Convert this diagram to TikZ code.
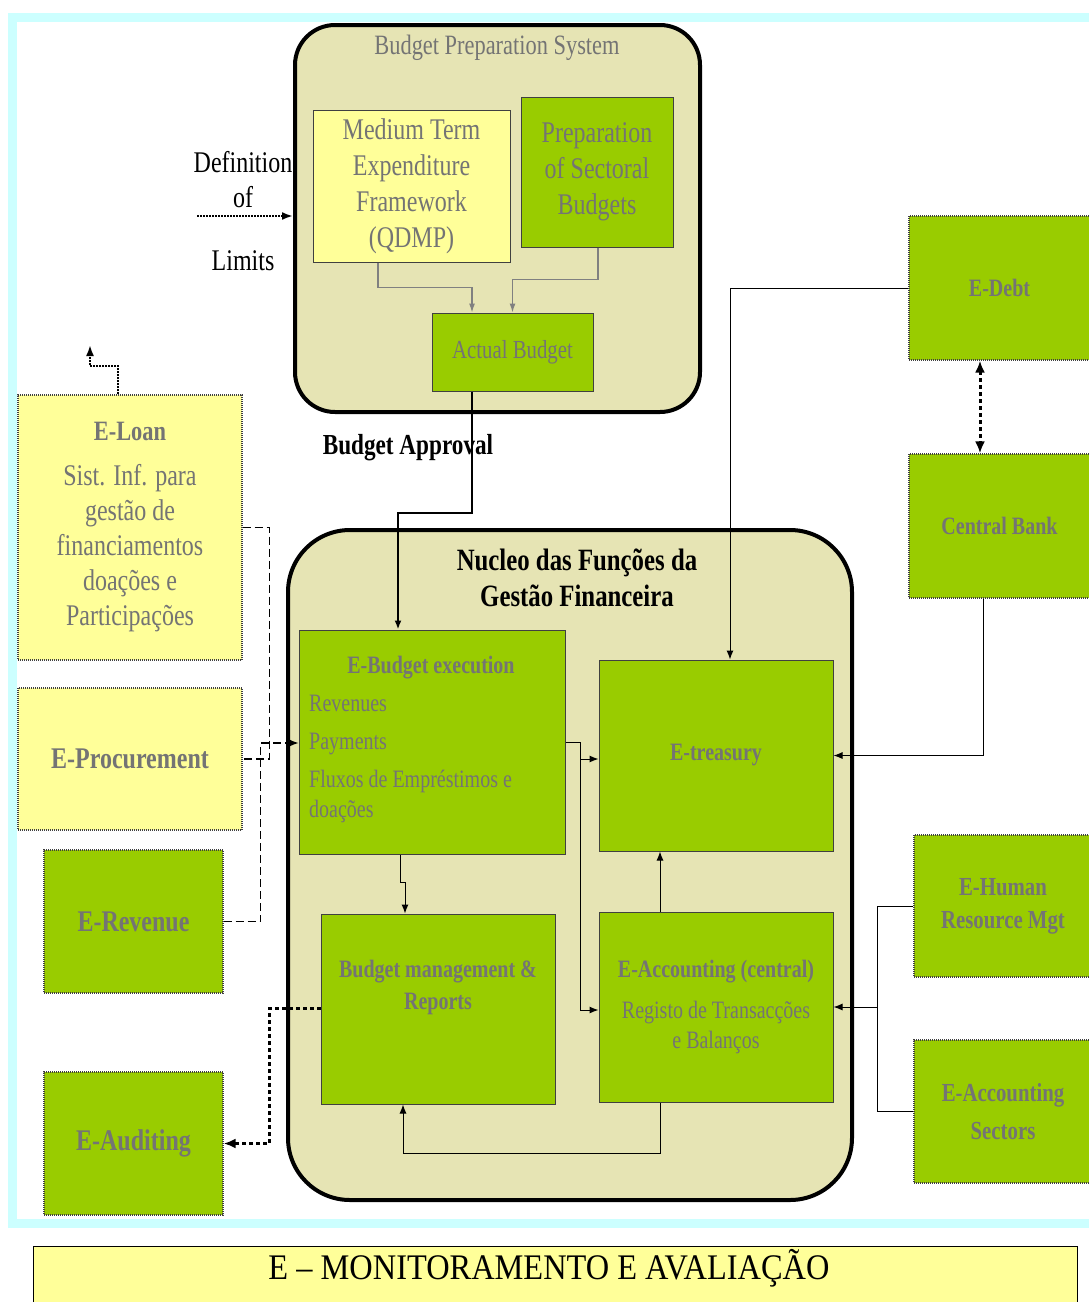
\documentclass[tikz,border=0pt]{standalone}
\usepackage{fontspec}
\setmainfont{Liberation Serif}
\newfontfamily\cnd[FakeStretch=0.8]{Liberation Serif}
\newfontfamily\capfont[FakeStretch=0.9]{Liberation Serif}
\usetikzlibrary{arrows.meta,positioning}
\definecolor{boxgreen}{HTML}{99CC00}
\definecolor{boxyellow}{HTML}{FFFF99}
\definecolor{corebeige}{HTML}{E6E4B4}
\definecolor{framecyan}{HTML}{CCFFFF}
\definecolor{labelgray}{HTML}{747474}
\newcommand{\pxfont}[2]{\fontsize{#1}{#2}\selectfont}

\begin{document}
\begin{tikzpicture}[x=1pt,y=-1pt]
\tikzset{
  greenbox/.style={rectangle,draw=black!75,line width=1pt,fill=boxgreen,text=labelgray,align=center,inner sep=0pt,font=\cnd\bfseries\pxfont{25}{32}},
  yellowbox/.style={rectangle,draw=black!75,line width=1pt,fill=boxyellow,text=labelgray,align=center,inner sep=0pt,font=\cnd\pxfont{30}{36}},
  outbox/.style={densely dotted,line width=1.2pt},
  bigbox/.style={rectangle,draw=black,line width=4pt,fill=corebeige,rounded corners=40pt},
  graytext/.style={text=labelgray,inner sep=0pt},
  link/.style={-{Latex[length=9pt,width=7pt]},line width=1pt},
  graylink/.style={-{Latex[length=9pt,width=6pt]},draw=gray,line width=1.2pt},
  dotlink/.style={-{Latex[length=11pt,width=8pt]},line width=2pt,densely dotted},
  dashlink/.style={line width=1.2pt,dash pattern=on 8pt off 4pt},
  heavydots/.style={-{Latex[length=12pt,width=10pt]},line width=3pt,dash pattern=on 4pt off 3pt}
}
\useasboundingbox (0,0) rectangle (1088,1302);
\fill[white] (0,0) rectangle (1088,1302);
\draw[framecyan,line width=9pt] (12.5,17) rectangle (1100,1223.5);

\node[bigbox,minimum width=405,minimum height=387] (bps) at (497.5,218.5) {};
\node[graytext,font=\cnd\pxfont{28}{32}] (bpstitle) at (497,48) {Budget Preparation System};
\node[yellowbox,minimum width=197,minimum height=152] (mtef) at (411.5,186) {Medium Term\\Expenditure\\Framework\\(QDMP)};
\node[greenbox,font=\cnd\pxfont{30}{36},minimum width=152,minimum height=150] (psb) at (597,172) {Preparation\\of Sectoral\\Budgets};
\node[greenbox,font=\cnd\pxfont{26}{30},minimum width=161,minimum height=78] (actual) at (512.5,352) {Actual Budget};

\node[font=\cnd\pxfont{30}{36},inner sep=0pt] (deftxt) at (243,162) {Definition};
\node[font=\cnd\pxfont{30}{36},inner sep=0pt] (oftxt) at (243,197) {of};
\node[font=\cnd\pxfont{30}{36},inner sep=0pt] (limtxt) at (243,261) {Limits};
\coordinate (limstart) at (197,216);

\node[bigbox,rounded corners=62pt,minimum width=564,minimum height=670] (nucleo) at (570,865) {};
\node[font=\cnd\bfseries\pxfont{31}{36},align=center,inner sep=0pt] (nucleotitle) at (577,578) {Nucleo das Funções da\\Gestão Financeira};
\node[font=\cnd\bfseries\pxfont{29}{32},inner sep=0pt] (approval) at (408,448) {Budget Approval};

\node[greenbox,minimum width=266,minimum height=224] (ebud) at (432,742) {};
\node[graytext,font=\cnd\bfseries\pxfont{25}{32}] (ebudtitle) at (431,668) {E-Budget execution};
\node[graytext,font=\cnd\pxfont{25}{38},align=left,anchor=west] (ebudlist) at (309,759) {Revenues\\Payments\\Fluxos de Empréstimos e\\[-8pt]doações};
\node[greenbox,minimum width=234,minimum height=191] (etreas) at (716,755.5) {E-treasury};
\node[greenbox,minimum width=234,minimum height=190] (bmr) at (438,1009) {};
\node[graytext,font=\cnd\bfseries\pxfont{25}{32},align=center] (bmrtext) at (438,987) {Budget management \&\\Reports};
\node[greenbox,font=\cnd\pxfont{25}{30},minimum width=234,minimum height=190] (eacc) at (716,1007) {{\bfseries E-Accounting (central)}\\[11pt]Registo de Transacções\\e Balanços};

\node[greenbox,outbox,minimum width=181,minimum height=144] (edebt) at (999.5,288) {E-Debt};
\node[greenbox,outbox,minimum width=181,minimum height=144] (cbank) at (999.5,526) {Central Bank};
\node[greenbox,outbox,minimum width=178,minimum height=142,font=\cnd\bfseries\pxfont{26}{33}] (ehr) at (1003,906) {E-Human\\Resource Mgt};
\node[greenbox,outbox,minimum width=178,minimum height=143,font=\cnd\bfseries\pxfont{26}{38}] (eaccs) at (1003,1111.5) {E-Accounting\\Sectors};

\node[yellowbox,outbox,minimum width=224,minimum height=265,font=\cnd\pxfont{30}{35}] (eloan) at (130,527.5) {{\bfseries\pxfont{28}{32}E-Loan}\\[10pt]Sist. Inf. para\\gestão de\\financiamentos\\doações e\\Participações};
\node[yellowbox,outbox,minimum width=224,minimum height=142,font=\cnd\bfseries\pxfont{30}{36}] (eproc) at (130,759) {E-Procurement};
\node[greenbox,outbox,minimum width=179,minimum height=143,font=\cnd\bfseries\pxfont{30}{36}] (erev) at (133.5,921.5) {E-Revenue};
\node[greenbox,outbox,minimum width=179,minimum height=143,font=\cnd\bfseries\pxfont{30}{36}] (eaud) at (133.5,1143.5) {E-Auditing};
\coordinate (loanout) at (90,345);

\node[draw=black,line width=1pt,fill=boxyellow,minimum width=1044,minimum height=70,inner sep=0pt] (monit) at (555,1281) {};
\node[font=\capfont\pxfont{36}{38},inner sep=0pt] (monittxt) at (549,1268) {E – MONITORAMENTO E AVALIAÇÃO};

\draw[graylink] ([xshift=-33.5pt]mtef.south) -- ++(0,25) -| ([xshift=-40.5pt]actual.north);
\draw[graylink] ([xshift=1pt]psb.south) -- ++(0,32) -| (actual.north);
\draw[dotlink] (limstart) -- (bps.west |- limstart);
\draw[link,line width=2pt] ([xshift=-40.5pt]actual.south) -- ++(0,121) -| ([xshift=-34pt]ebud.north);

\draw[link] (ebud.east) -- ++(15,0) |- ([yshift=-3.5pt]etreas.west);
\draw[link] (ebud.east) -- ++(15,0) |- ([yshift=-3pt]eacc.west);
\draw[link] ([xshift=-32pt]ebud.south) -- ++(0,28) -| ([xshift=-33pt]bmr.north);
\draw[link] ([xshift=-56pt]eacc.north) -- ([xshift=-56pt]etreas.south);
\draw[link] ([xshift=-56pt]eacc.south) -- ++(0,51) -| ([xshift=-35pt]bmr.south);

\draw[link] (edebt.west) -| ([xshift=14pt]etreas.north);
\draw[heavydots,{Latex[length=12pt,width=10pt]}-{Latex[length=12pt,width=10pt]}] ([xshift=-19.5pt]edebt.south) -- ([xshift=-19.5pt]cbank.north);
\draw[link] ([xshift=-16.5pt]cbank.south) |- (etreas.east);
\draw[line width=1pt] (ehr.west) -- ++(-36,0) |- (eaccs.west);
\draw[link] ([xshift=-36pt]ehr.west) |- (eacc.east);

\draw[dashlink] (eloan.east) -- ++(27,0) |- (eproc.east);
\draw[dashlink,-{Latex[length=10pt,width=8pt]}] (erev.east) -- ++(37,0) |- ([yshift=-1pt]ebud.west);
\draw[dotlink] ([xshift=-12pt]eloan.north) -- ++(0,-28) -| (loanout);
\draw[heavydots] ([yshift=1pt]bmr.west) -- ++(-51,0) |- (eaud.east);
\end{tikzpicture}
\end{document}
